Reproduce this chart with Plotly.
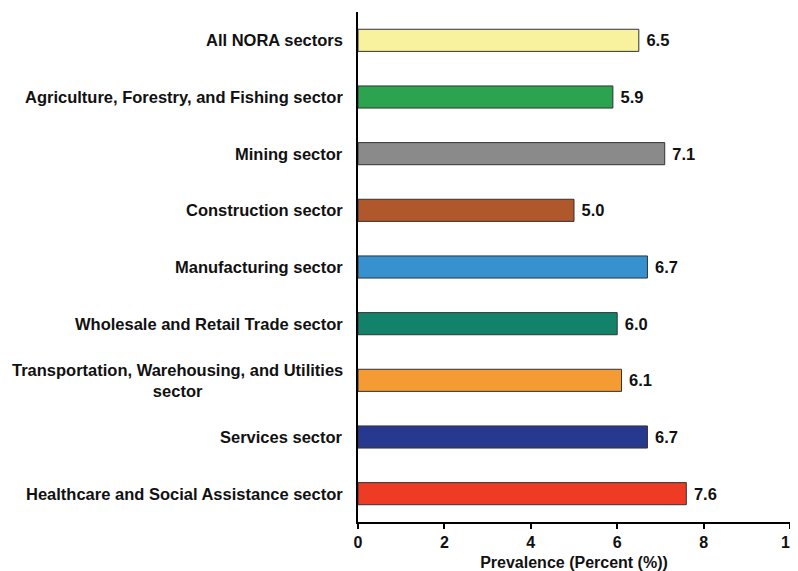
import plotly.graph_objects as go

categories = [
    "All NORA sectors",
    "Agriculture, Forestry, and Fishing sector",
    "Mining sector",
    "Construction sector",
    "Manufacturing sector",
    "Wholesale and Retail Trade sector",
    "Transportation, Warehousing, and Utilities<br>sector",
    "Services sector",
    "Healthcare and Social Assistance sector",
]
values = [6.5, 5.9, 7.1, 5.0, 6.7, 6.0, 6.1, 6.7, 7.6]
colors = ["#F8F29E", "#2CA34F", "#8A8A8A", "#B0572B", "#3891CF",
          "#12836A", "#F49B33", "#27388F", "#EE3B24"]
x_ticks = [0, 2, 4, 6, 8, 10]

font = "Liberation Sans, Arial, sans-serif"

fig = go.Figure()
fig.add_trace(go.Bar(
    x=values,
    y=list(range(len(categories))),
    orientation="h",
    width=0.39,
    marker=dict(color=colors, line=dict(color="#333333", width=1)),
    text=[f"<b>\u00a0{v:.1f}</b>" for v in values],
    textposition="outside",
    textfont=dict(family=font, size=16.5, color="#111111"),
    cliponaxis=False,
))

annotations = []
for i, c in enumerate(categories):
    annotations.append(dict(
        x=0, xref="paper", y=i, yref="y", text=f"<b>{c}</b>",
        xanchor="right", yanchor="middle", xshift=-13, align="center",
        showarrow=False, font=dict(family=font, size=16.5, color="#111111"),
    ))

fig.update_layout(
    width=790, height=563,
    margin=dict(l=350, r=8, t=4, b=49, autoexpand=False),
    paper_bgcolor="white", plot_bgcolor="white",
    showlegend=False,
    font=dict(family=font, size=16, color="#111111"),
    annotations=annotations,
    xaxis=dict(
        range=[0, 10], tickvals=x_ticks,
        ticktext=[f"<b>{t}</b>" for t in x_ticks],
        ticklabeloverflow="allow",
        showline=True, linecolor="black", linewidth=2,
        ticks="outside", ticklen=5, tickwidth=2, tickcolor="black",
        showgrid=False, zeroline=False, automargin=False,
        tickfont=dict(family=font, size=16, color="#111111"),
        title=dict(text="<b>Prevalence (Percent (%))</b>", standoff=8,
                   font=dict(family=font, size=16, color="#111111")),
    ),
    yaxis=dict(
        range=[8.5, -0.5],
        showticklabels=False, automargin=False,
        showline=True, linecolor="black", linewidth=2,
        ticks="", showgrid=False, zeroline=False,
    ),
)

fig.write_html("out.html")
